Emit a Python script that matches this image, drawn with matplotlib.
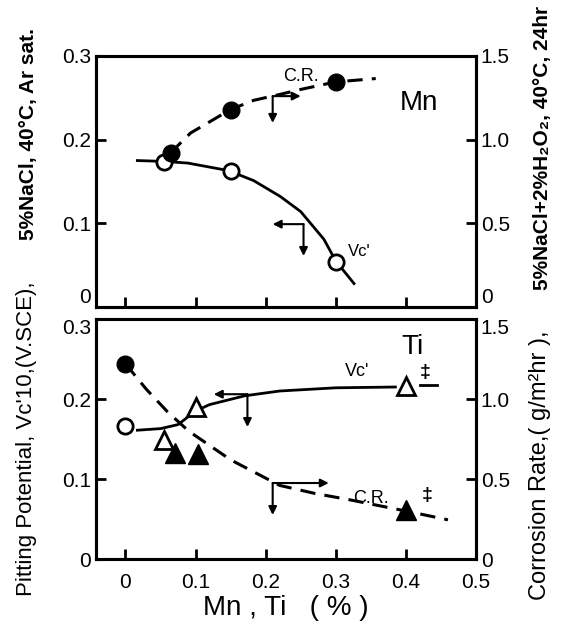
import matplotlib
matplotlib.use("Agg")
import matplotlib.pyplot as plt

plt.rcParams['font.family'] = ['Liberation Sans', 'DejaVu Sans']

# --- Mn (top panel) ---
mn_vc_x = [0.055, 0.15, 0.30]
mn_vc_y = [0.173, 0.163, 0.054]
mn_cr_x = [0.065, 0.15, 0.30]
mn_cr_y = [0.92, 1.18, 1.345]
# hand drawn curves
mn_vc_line_x = [0.017, 0.054, 0.089, 0.147, 0.183, 0.221, 0.25, 0.283, 0.30, 0.326]
mn_vc_line_y = [0.175, 0.174, 0.172, 0.163, 0.151, 0.132, 0.114, 0.081, 0.055, 0.028]
mn_cr_line_x = [0.064, 0.093, 0.15, 0.183, 0.22, 0.25, 0.3, 0.357]
mn_cr_line_y = [0.92, 1.04, 1.18, 1.235, 1.27, 1.30, 1.345, 1.365]

# --- Ti (bottom panel) ---
ti_vc_base = (0.0, 0.166)
ti_cr_base = (0.0, 1.22)
ti_vc_x = [0.055, 0.1, 0.4]
ti_vc_y = [0.149, 0.19, 0.216]
ti_cr_x = [0.07, 0.103, 0.4]
ti_cr_y = [0.66, 0.656, 0.306]
ti_vc_line_x = [0.017, 0.05, 0.075, 0.1, 0.12, 0.17, 0.22, 0.3, 0.385]
ti_vc_line_y = [0.161, 0.163, 0.168, 0.185, 0.193, 0.204, 0.21, 0.214, 0.215]
ti_cr_line_x = [0.0, 0.03, 0.06, 0.09, 0.15, 0.22, 0.27, 0.32, 0.4, 0.46]
ti_cr_line_y = [1.22, 1.06, 0.92, 0.80, 0.62, 0.46, 0.41, 0.37, 0.30, 0.245]

x_ticks = [0, 0.1, 0.2, 0.3, 0.4]
x_labels = ["0", "0.1", "0.2", "0.3", "0.4", "0.5"]
left_ticks = [0, 0.1, 0.2, 0.3]
left_labels = ["0", "0.1", "0.2", "0.3"]
right_ticks = [0, 0.5, 1.0, 1.5]
right_labels = ["0", "0.5", "1.0", "1.5"]

fig = plt.figure(figsize=(5.7, 6.26), dpi=100)
ax1 = fig.add_axes([0.1684, 0.5096, 0.6667, 0.401])
ax2 = fig.add_axes([0.1684, 0.107, 0.6667, 0.3834])

tick_kw = dict(direction='in', length=7, width=2, labelsize=15)


def setup(ax, top):
    ax.set_xlim(-0.042, 0.5)
    ax.set_ylim(0, 0.3)
    ax.set_yticks(left_ticks)
    ax.set_yticklabels(left_labels)
    ax.set_xticks(x_ticks + ([] if top else [0.5]))
    ax.set_xticklabels([] if top else x_labels)
    ax.tick_params(**tick_kw)
    ax.tick_params(axis='x', pad=10)
    for s in ax.spines.values():
        s.set_linewidth(2.2)
    axr = ax.twinx()
    axr.set_ylim(0, 1.5)
    axr.set_yticks(right_ticks)
    axr.set_yticklabels(right_labels)
    axr.tick_params(**tick_kw)
    for s in axr.spines.values():
        s.set_linewidth(2.2)
    # keep the "0" of the top panel and the top label of the lower panel apart
    for a in (ax, axr):
        labels = a.get_yticklabels()
        if top:
            labels[0].set_va('bottom')
        else:
            labels[-1].set_va('top')
    return axr


def corner_arrow(ax, corner, tip_h, tip_v):
    ap = dict(arrowstyle='-|>', color='black', lw=1.5, mutation_scale=12, shrinkA=0, shrinkB=0)
    ax.annotate("", xy=tip_h, xytext=corner, arrowprops=ap)
    ax.annotate("", xy=tip_v, xytext=corner, arrowprops=ap)


ax1r = setup(ax1, True)
ax2r = setup(ax2, False)

dash = (0, (5, 3))

# top panel
ax1.plot(mn_vc_line_x, mn_vc_line_y, color='black', lw=2)
ax1.plot(mn_vc_x, mn_vc_y, 'o', ms=11, mfc='white', mec='black', mew=2)
ax1r.plot(mn_cr_line_x, mn_cr_line_y, color='black', lw=2.2, ls=dash)
ax1r.plot(mn_cr_x, mn_cr_y, 'o', ms=12, color='black')
corner_arrow(ax1r, (0.21, 1.26), (0.25, 1.26), (0.21, 1.1))
corner_arrow(ax1, (0.254, 0.099), (0.21, 0.099), (0.254, 0.061))
ax1r.text(0.25, 1.38, "C.R.", fontsize=13, ha='center', va='center')
ax1r.text(0.418, 1.22, "Mn", fontsize=20, ha='center', va='center')
ax1.text(0.318, 0.066, "Vc'", fontsize=12, ha='left', va='center')

# bottom panel
ax2.plot(ti_vc_line_x, ti_vc_line_y, color='black', lw=2)
ax2.plot([0.42, 0.445], [0.2175, 0.2175], color='black', lw=2)
ax2.plot([ti_vc_base[0]], [ti_vc_base[1]], 'o', ms=11, mfc='white', mec='black', mew=2)
ax2.plot(ti_vc_x, ti_vc_y, '^', ms=13, mfc='white', mec='black', mew=2)
ax2r.plot(ti_cr_line_x, ti_cr_line_y, color='black', lw=2.2, ls=dash)
ax2r.plot([ti_cr_base[0]], [ti_cr_base[1]], 'o', ms=12, color='black')
ax2r.plot(ti_cr_x, ti_cr_y, '^', ms=14, color='black')
corner_arrow(ax2, (0.174, 0.206), (0.126, 0.206), (0.174, 0.165))
corner_arrow(ax2r, (0.21, 0.475), (0.29, 0.475), (0.21, 0.275))
ax2.text(0.33, 0.234, "Vc'", fontsize=13, ha='center', va='center')
ax2.text(0.41, 0.265, "Ti", fontsize=20, ha='center', va='center')
ax2.text(0.428, 0.233, "‡", fontsize=14, ha='center', va='center', fontweight='bold')
ax2r.text(0.35, 0.38, "C.R.", fontsize=13, ha='center', va='center')
ax2r.text(0.43, 0.40, "‡", fontsize=14, ha='center', va='center', fontweight='bold')
ax2.set_xlabel("Mn , Ti   ( % )", fontsize=20, labelpad=2)

# axis titles spanning both panels
fig.text(0.047, 0.048, "Pitting Potential, Vc'10,(V.SCE),", rotation=90,
         fontsize=16, ha='center', va='bottom')
fig.text(0.050, 0.955, "5%NaCl, 40°C, Ar sat.", rotation=90,
         fontsize=15, fontweight='bold', ha='center', va='top')
fig.text(0.947, 0.042, "Corrosion Rate,( g/m²hr ),", rotation=90,
         fontsize=17, ha='center', va='bottom')
fig.text(0.952, 0.99, "5%NaCl+2%H₂O₂, 40°C, 24hr", rotation=90,
         fontsize=15, fontweight='bold', ha='center', va='top')

fig.savefig("out.png", dpi=100)
